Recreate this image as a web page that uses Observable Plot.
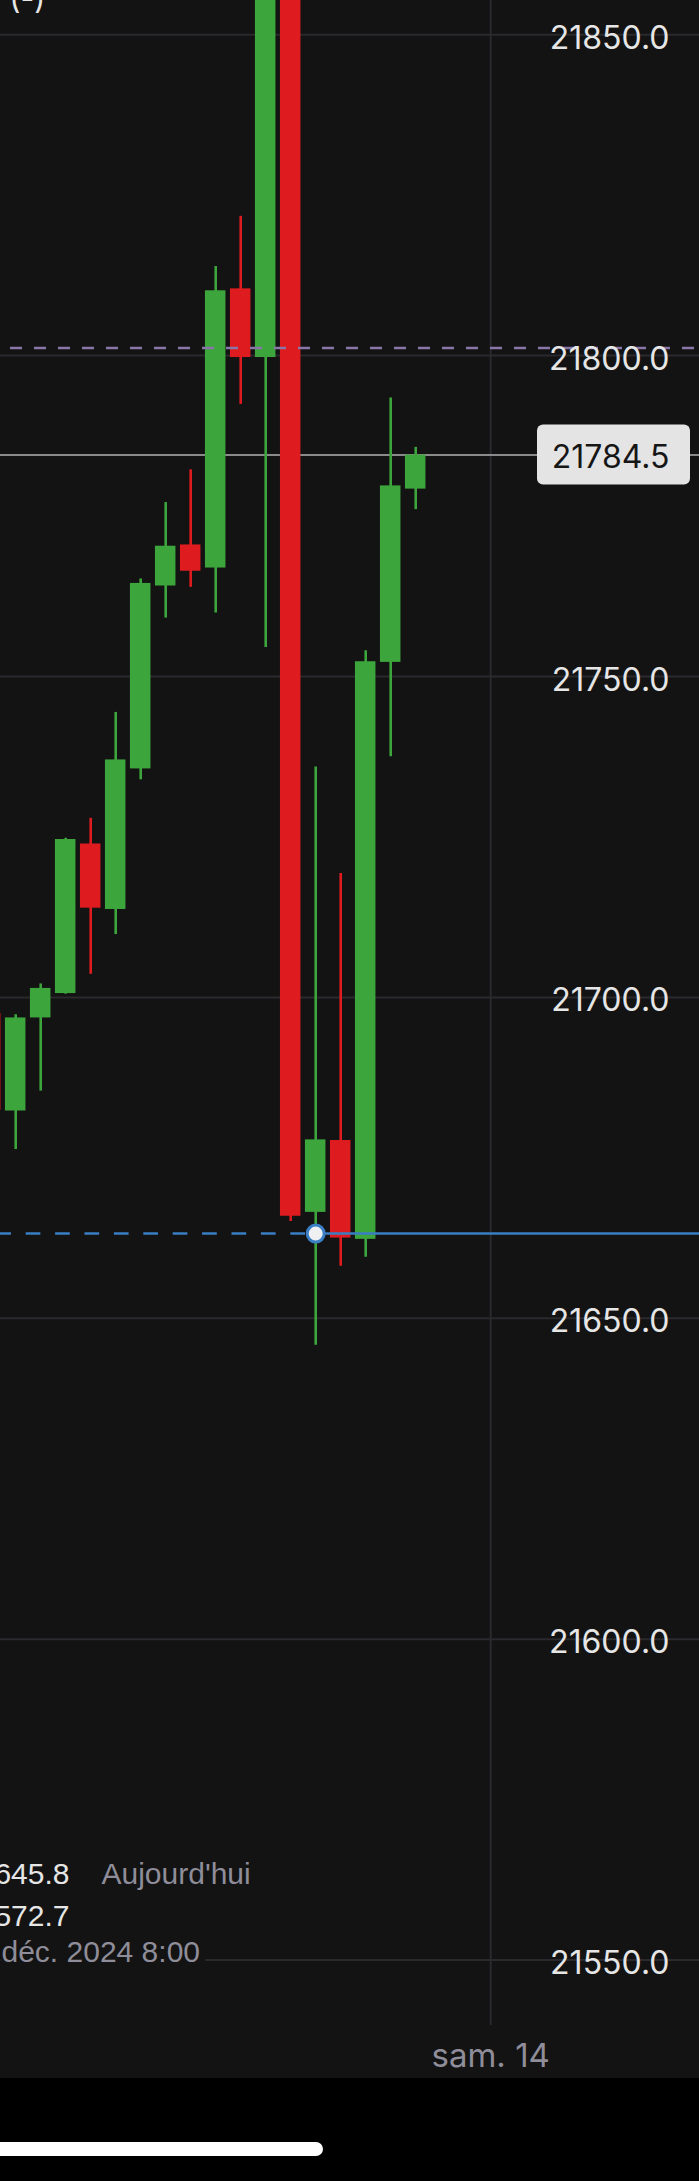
<!DOCTYPE html>
<html>
<head>
<meta charset="utf-8">
<script src="https://cdn.jsdelivr.net/npm/d3@7"></script>
<script src="https://cdn.jsdelivr.net/npm/@observablehq/plot@0.6"></script>
<style>
  html, body { margin: 0; padding: 0; background: #000; }
  #chart { width: 699px; background: #131313; }
  #chart svg { display: block; }
  #home { position: relative; width: 699px; height: 103px; background: #000; overflow: hidden; }
  #bar { position: absolute; left: -20px; top: 64px; width: 343px; height: 14px; border-radius: 7px; background: #fff; }
</style>
</head>
<body>
<div id="chart"></div>
<div id="home"><div id="bar"></div></div>
<script>
// ---- data ----
const candleIndex = [-1, 0, 1, 2, 3, 4, 5, 6, 7, 8, 9, 10, 11, 12, 13, 14, 15, 16];
const opens  = [21697.5, 21682.3, 21696.8, 21700.6, 21723.9, 21713.7, 21735.6, 21764.1, 21770.5, 21766.9, 21810.4, 21799.7, 21880.0, 21666.5, 21677.7, 21662.3, 21752.2, 21779.2];
const highs  = [21700.0, 21697.3, 21702.1, 21724.8, 21727.9, 21744.4, 21765.2, 21777.1, 21782.2, 21813.9, 21821.7, 21885.0, 21885.0, 21735.9, 21719.3, 21754.0, 21793.4, 21785.7];
const lows   = [21680.0, 21676.3, 21685.4, 21700.5, 21703.6, 21709.8, 21733.9, 21759.1, 21763.9, 21759.9, 21792.4, 21754.5, 21665.1, 21645.8, 21658.1, 21659.5, 21737.5, 21776.0];
const closes = [21682.4, 21696.8, 21701.4, 21724.6, 21713.9, 21737.0, 21764.5, 21770.3, 21766.4, 21810.1, 21799.7, 21880.0, 21665.9, 21677.8, 21662.5, 21752.3, 21779.7, 21784.5];

const yTicks = [21550, 21600, 21650, 21700, 21750, 21800, 21850];
const dayTickIndex = [19];
const dayTickLabels = ["sam. 14"];

const lastPrice = 21784.5;
const purpleLevel = 21801.2;
const crosshairLevel = 21663.2;
const crosshairIndex = 12;

const infoLine1Value = "645.8";
const infoLine1Label = "Aujourd'hui";
const infoLine2Value = "572.7";
const infoLine3 = "déc. 2024 8:00";
const topText = "(-)";

// ---- table ----
const candles = candleIndex.map((i, k) => ({
  i, open: opens[k], high: highs[k], low: lows[k], close: closes[k],
  up: closes[k] >= opens[k]
}));

const W = 699, H = 2078;
const xDomain = [-0.608, 27.352];
const yDomain = [21531.55, 21855.33];

const GREEN = "#3ca53c", RED = "#de1c1f", BG = "#131313";
const GRID = "#2a2a2e", BLUE = "#3a7ec3", PURPLE = "#8976a8";
const LABEL = "#e6e6e6", MUTED = "#8e8d99";
const FONT = "Inter, 'Liberation Sans', sans-serif";
const FONT2 = "'Liberation Sans', Arial, sans-serif";

const halfBody = 0.41;

const plot = Plot.plot({
  width: W,
  height: H,
  margin: 0,
  style: { background: BG, fontFamily: FONT, overflow: "hidden" },
  x: { type: "linear", domain: xDomain, axis: null },
  y: { type: "linear", domain: yDomain, axis: null },
  marks: [
    // horizontal grid
    Plot.ruleY(yTicks, { stroke: GRID, strokeWidth: 2 }),
    // vertical day grid
    Plot.ruleX(dayTickIndex, { stroke: GRID, strokeWidth: 2, insetBottom: 53 }),
    // last price line (behind candles)
    Plot.ruleY([lastPrice], { stroke: "#8a8a8a", strokeWidth: 2 }),
    // wicks
    Plot.ruleX(candles, { x: "i", y1: "low", y2: "high", stroke: d => d.up ? GREEN : RED, strokeWidth: 2.6, clip: true }),
    // bodies
    Plot.rect(candles, {
      x1: d => d.i - halfBody, x2: d => d.i + halfBody,
      y1: "open", y2: "close",
      fill: d => d.up ? GREEN : RED, clip: true
    }),
    // purple dashed level
    Plot.ruleY([purpleLevel], { stroke: PURPLE, strokeWidth: 2.5, strokeDasharray: "12,12", insetLeft: 10 }),
    // crosshair horizontal: dashed left, solid right
    Plot.ruleY([crosshairLevel], { x1: xDomain[0], x2: crosshairIndex, stroke: BLUE, strokeWidth: 2.5, strokeDasharray: "14.7,14.7", strokeDashoffset: 3.7 }),
    Plot.ruleY([crosshairLevel], { x1: crosshairIndex, x2: xDomain[1], stroke: BLUE, strokeWidth: 2.5 }),
    Plot.dot([[crosshairIndex, crosshairLevel]], { x: d => d[0], y: d => d[1], r: 8.5, fill: "#eef0f2", stroke: BLUE, strokeWidth: 3 }),
    // last price label box
    Plot.rect([lastPrice], { y1: d => d, y2: d => d, insetTop: -30, insetBottom: -30, insetLeft: 537, insetRight: 9, rx: 6, fill: "#e4e4e4" }),
    Plot.text([lastPrice], { y: d => d, text: d => d.toFixed(1), frameAnchor: "right", dx: -30, dy: 13, textAnchor: "end", lineAnchor: "bottom", fill: "#161616", fontSize: 32 }),
    // y labels
    Plot.text(yTicks, { y: d => d, text: d => d.toFixed(1), frameAnchor: "right", dx: -30, dy: 14, textAnchor: "end", lineAnchor: "bottom", fill: LABEL, fontSize: 32 }),
    // x label
    Plot.text(dayTickIndex, { x: d => d, text: (d, k) => dayTickLabels[k], frameAnchor: "bottom", dy: -12, lineAnchor: "bottom", fill: MUTED, fontSize: 33 }),
    // info block background + text
    Plot.frame({ fill: BG, stroke: null, insetLeft: 0, insetRight: 494, insetTop: 1848, insetBottom: 110 }),
    Plot.text([infoLine1Value], { text: d => d, frameAnchor: "top-left", dx: 69, dy: 1883, textAnchor: "end", lineAnchor: "bottom", fill: LABEL, fontSize: 30, fontFamily: FONT2 }),
    Plot.text([infoLine1Label], { text: d => d, frameAnchor: "top-left", dx: 101, dy: 1883, textAnchor: "start", lineAnchor: "bottom", fill: MUTED, fontSize: 30, fontFamily: FONT2 }),
    Plot.text([infoLine2Value], { text: d => d, frameAnchor: "top-left", dx: 69, dy: 1925, textAnchor: "end", lineAnchor: "bottom", fill: LABEL, fontSize: 30, fontFamily: FONT2 }),
    Plot.text([infoLine3], { text: d => d, frameAnchor: "top-left", dx: 1, dy: 1961, textAnchor: "start", lineAnchor: "bottom", fill: MUTED, fontSize: 30, fontFamily: FONT2 }),
    // cut-off top text
    Plot.text([topText], { text: d => d, frameAnchor: "top-left", dx: 9, dy: 8, textAnchor: "start", lineAnchor: "bottom", fill: LABEL, fontSize: 30 })
  ]
});

document.getElementById("chart").appendChild(plot);
</script>
</body>
</html>
